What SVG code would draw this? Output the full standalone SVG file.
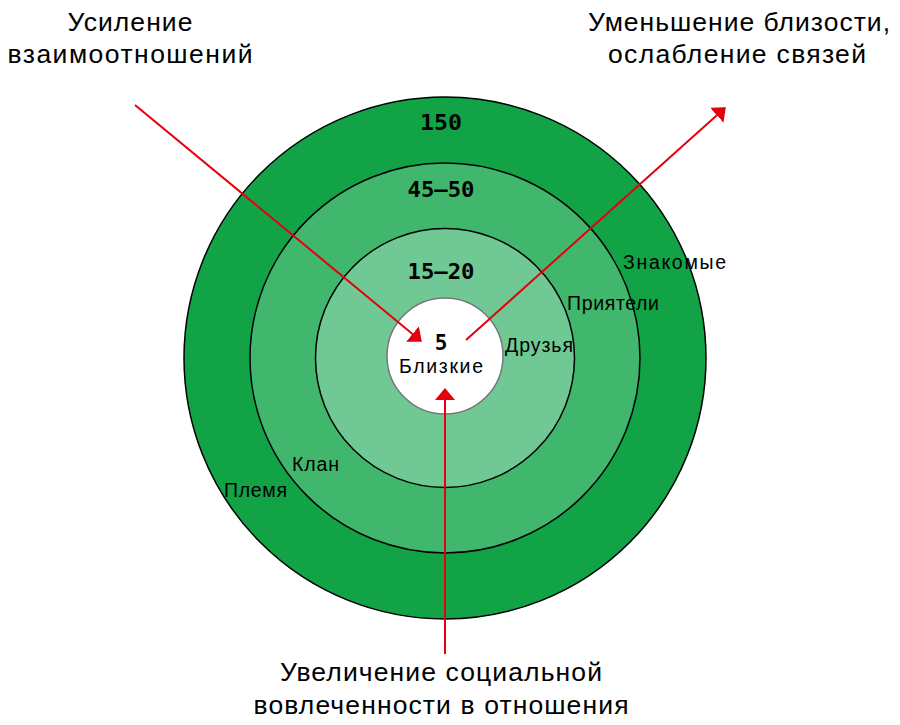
<svg xmlns="http://www.w3.org/2000/svg" width="900" height="725" viewBox="0 0 900 725">
<defs>
<style>
.ring{stroke:#000;stroke-width:1.5}
.num{font-family:"DejaVu Sans Mono","Liberation Mono",monospace;font-weight:bold;font-size:21px;fill:#000;text-anchor:middle}
.lbl{font-family:"Liberation Sans",Arial,sans-serif;font-size:19.5px;fill:#000}
.title{font-family:"Liberation Sans",Arial,sans-serif;font-size:26.5px;fill:#000}
.arr{stroke:#e3000f;stroke-width:2;fill:none;marker-end:url(#ah)}
</style>
<marker id="ah" viewBox="0 0 12 20" refX="11" refY="10" markerWidth="12" markerHeight="20" markerUnits="userSpaceOnUse" orient="auto">
<path d="M0,0 L12,10 L0,20 Z" fill="#e3000f"/>
</marker>
</defs>
<rect width="900" height="725" fill="#fff"/>
<g id="ring-150">
<circle class="ring" cx="445" cy="358" r="261" fill="#12a347"/>
<text class="num" x="441" y="130" textLength="42" lengthAdjust="spacingAndGlyphs">150</text>
<text class="lbl" x="224" y="497" textLength="63" lengthAdjust="spacing">Племя</text>
<text class="lbl" x="623" y="269" textLength="103" lengthAdjust="spacing">Знакомые</text>
</g>
<g id="ring-45-50">
<circle class="ring" cx="445" cy="358" r="195" fill="#41b66d"/>
<text class="num" x="441" y="197" textLength="67" lengthAdjust="spacingAndGlyphs">45–50</text>
<text class="lbl" x="292" y="471" textLength="47" lengthAdjust="spacing">Клан</text>
<text class="lbl" x="567" y="310" textLength="92" lengthAdjust="spacing">Приятели</text>
</g>
<g id="ring-15-20">
<circle class="ring" cx="445" cy="358" r="129.5" fill="#70c994"/>
<text class="num" x="441" y="279" textLength="67" lengthAdjust="spacingAndGlyphs">15–20</text>
<text class="lbl" x="505" y="352" textLength="68" lengthAdjust="spacing">Друзья</text>
</g>
<g id="ring-5">
<circle cx="445" cy="356" r="58" fill="#fff" stroke="#777" stroke-width="1.5"/>
<text class="num" x="441" y="350">5</text>
<text class="lbl" x="441" y="373" text-anchor="middle" textLength="84" lengthAdjust="spacing">Близкие</text>
</g>
<g id="connectors">
<line class="arr" x1="135" y1="105" x2="421" y2="341"/>
<line class="arr" x1="466" y1="340" x2="725" y2="108"/>
<line class="arr" x1="445" y1="654" x2="445" y2="389"/>
</g>
<g id="title-left">
<text class="title" x="130" y="31" text-anchor="middle" textLength="125" lengthAdjust="spacing">Усиление</text>
<text class="title" x="130" y="63" text-anchor="middle" textLength="245" lengthAdjust="spacing">взаимоотношений</text>
</g>
<g id="title-right">
<text class="title" x="739" y="31" text-anchor="middle" textLength="302" lengthAdjust="spacing">Уменьшение близости,</text>
<text class="title" x="737" y="63" text-anchor="middle" textLength="258" lengthAdjust="spacing">ослабление связей</text>
</g>
<g id="title-bottom">
<text class="title" x="441" y="681" text-anchor="middle" textLength="322" lengthAdjust="spacing">Увеличение социальной</text>
<text class="title" x="441" y="714" text-anchor="middle" textLength="375" lengthAdjust="spacing">вовлеченности в отношения</text>
</g>
</svg>
